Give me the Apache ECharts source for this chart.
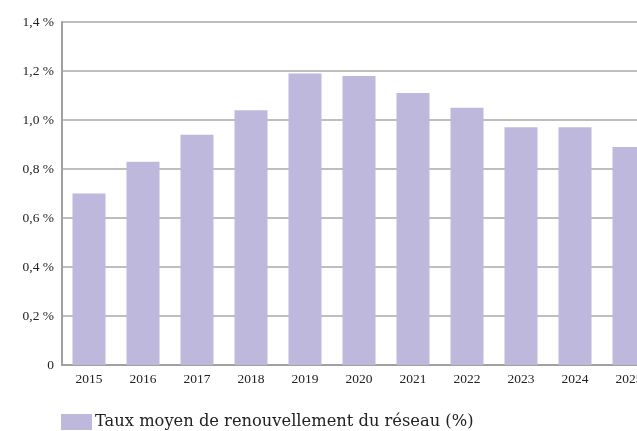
<!DOCTYPE html>
<html>
<head>
<meta charset="utf-8">
<script src="https://cdn.jsdelivr.net/npm/echarts@6/dist/echarts.min.js"></script>
<style>
  html, body { margin: 0; padding: 0; background: #fff; overflow: hidden; }
  /* le graphique déborde à droite, comme dans l'original */
  #chart { width: 656px; height: 431px; }
</style>
</head>
<body>
<div id="chart"></div>
<script>
// années
var years = ['2015', '2016', '2017', '2018', '2019', '2020', '2021', '2022', '2023', '2024', '2025'];
// taux moyen de renouvellement (%)
var taux = [0.70, 0.83, 0.94, 1.04, 1.19, 1.18, 1.11, 1.05, 0.97, 0.97, 0.89];
var seriesName = 'Taux moyen de renouvellement du réseau (%)';

var serif = '"Liberation Serif", "DejaVu Serif", serif';

var option = {
    animation: false,
    color: ['#bfb8dd'],
    legend: {
        left: 61,
        top: 414,
        padding: 0,
        itemWidth: 31,
        itemHeight: 16,
        icon: 'rect',
        textStyle: {
            fontFamily: '"DejaVu Serif", serif',
            fontSize: 16.3,
            color: '#222',
            padding: [0, 0, 0, -2]
        },
        data: [seriesName]
    },
    grid: {
        left: 62,
        top: 22,
        right: 0,
        bottom: 66
    },
    xAxis: {
        type: 'category',
        data: years,
        axisTick: { show: false },
        axisLine: {
            lineStyle: { color: '#a0a0a0', width: 2 }
        },
        axisLabel: {
            margin: 7,
            fontFamily: serif,
            fontSize: 13.5,
            color: '#222'
        }
    },
    yAxis: {
        type: 'value',
        min: 0,
        max: 1.4,
        interval: 0.2,
        axisTick: { show: false },
        axisLine: {
            show: true,
            lineStyle: { color: '#a0a0a0', width: 2 }
        },
        axisLabel: {
            margin: 8,
            fontFamily: serif,
            fontSize: 13.5,
            color: '#222',
            formatter: function (v) {
                if (v === 0) return '0';
                return v.toFixed(1).replace('.', ',') + ' %';
            }
        },
        splitLine: {
            show: true,
            lineStyle: { color: '#a8a8a8', width: 1.5 }
        }
    },
    series: [{
        name: seriesName,
        type: 'bar',
        barWidth: 33,
        data: taux
    }]
};

var myChart = echarts.init(document.getElementById('chart'));
myChart.setOption(option);
</script>
</body>
</html>
